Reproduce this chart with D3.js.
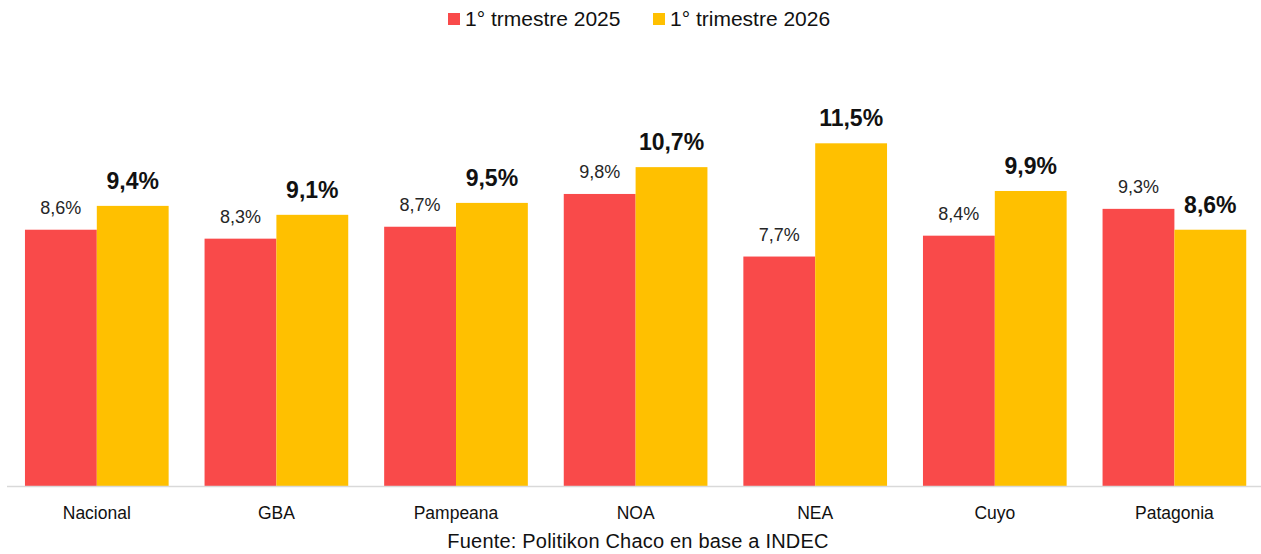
<!DOCTYPE html>
<html>
<head>
<meta charset="utf-8">
<script src="https://cdn.jsdelivr.net/npm/d3@7"></script>
<style>
  body { margin: 0; background: #fff; }
  svg { display: block; font-family: "Liberation Sans", Arial, sans-serif; }
</style>
</head>
<body>
<script>
// data
const regions = ["Nacional", "GBA", "Pampeana", "NOA", "NEA", "Cuyo", "Patagonia"];
const series = ["1° trmestre 2025", "1° trimestre 2026"];
const values2025 = [8.6, 8.3, 8.7, 9.8, 7.7, 8.4, 9.3];
const values2026 = [9.4, 9.1, 9.5, 10.7, 11.5, 9.9, 8.6];
const colors = ["#F94A4A", "#FFC000"];
const source = "Fuente: Politikon Chaco en base a INDEC";

// layout
const width = 1261;
const height = 554;
const baseline = 486;

const rows = regions.map((r, i) => ({ region: r, vals: [values2025[i], values2026[i]] }));

const svg = d3.select("body").append("svg")
  .attr("width", width)
  .attr("height", height);

const x = d3.scaleBand()
  .domain(regions)
  .range([7, 1264.2])
  .paddingInner(0.2)
  .paddingOuter(0.1);

const xSub = d3.scaleBand()
  .domain([0, 1])
  .range([0, x.bandwidth()]);

const y = d3.scaleLinear()
  .domain([0, 14])
  .range([baseline, baseline - 14 * 29.8]);

const fmt = (v) => v.toFixed(1).replace(".", ",") + "%";

// bars
const groups = svg.append("g")
  .selectAll("g")
  .data(rows)
  .join("g")
  .attr("transform", (d) => `translate(${x(d.region)},0)`);

groups.selectAll("rect")
  .data((d) => d.vals)
  .join("rect")
  .attr("x", (d, i) => xSub(i))
  .attr("y", (d) => y(d))
  .attr("width", xSub.bandwidth())
  .attr("height", (d) => baseline - y(d))
  .attr("fill", (d, i) => colors[i]);

// value labels
groups.selectAll("text")
  .data((d) => d.vals)
  .join("text")
  .attr("x", (d, i) => xSub(i) + xSub.bandwidth() / 2)
  .attr("y", (d, i) => y(d) - (i === 0 ? 16 : 17))
  .attr("text-anchor", "middle")
  .attr("font-size", (d, i) => (i === 0 ? "18px" : "23px"))
  .attr("font-weight", (d, i) => (i === 0 ? "normal" : "bold"))
  .attr("fill", (d, i) => (i === 0 ? "#262626" : "#111"))
  .text(fmt);

// x axis
const xAxis = svg.append("g")
  .attr("transform", `translate(0,${baseline})`)
  .call(d3.axisBottom(x).tickSize(0).tickPadding(21));

xAxis.select(".domain")
  .attr("d", `M7,0.5H${width}`)
  .attr("stroke", "#d9d9d9")
  .attr("stroke-width", 1.5);

xAxis.selectAll("text")
  .attr("font-size", "17.5px")
  .attr("font-family", "Liberation Sans, Arial, sans-serif")
  .attr("fill", "#111");

// legend
const legendPos = [448, 653];
const legend = svg.append("g")
  .selectAll("g")
  .data(series)
  .join("g")
  .attr("transform", (d, i) => `translate(${legendPos[i]},0)`);

legend.append("rect")
  .attr("x", 0)
  .attr("y", 13)
  .attr("width", 12)
  .attr("height", 12)
  .attr("fill", (d, i) => colors[i]);

legend.append("text")
  .attr("x", 17)
  .attr("y", 26)
  .attr("font-size", "21px")
  .attr("fill", "#111")
  .text((d) => d);

// source
svg.append("text")
  .attr("x", 638)
  .attr("y", 548)
  .attr("text-anchor", "middle")
  .attr("font-size", "20px")
  .attr("letter-spacing", "0.2px")
  .attr("fill", "#111")
  .text(source);
</script>
</body>
</html>
